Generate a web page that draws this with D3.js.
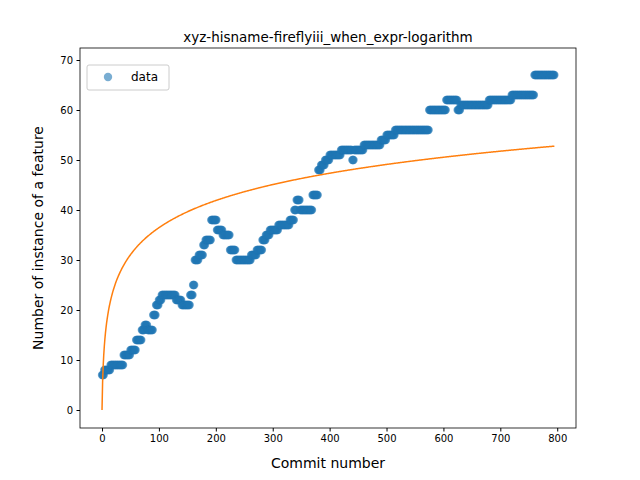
<!DOCTYPE html>
<html><head><meta charset="utf-8">
<script src="https://cdn.jsdelivr.net/npm/d3@7"></script>
<style>body{margin:0;background:#fff}text{font-family:"DejaVu Sans",sans-serif}</style>
</head><body><svg id="c" width="640" height="480"></svg>
<script>
// step runs: commit where a run starts, and its value
var runStart = [0, 4, 15, 38, 50, 60, 70, 75, 80, 90, 95, 100, 105, 130, 140, 155, 160, 163, 170, 178, 182, 192, 202, 212, 225, 235, 262, 272, 282, 288, 295, 310, 330, 338, 342, 348, 370, 380, 385, 392, 400, 420, 440, 443, 460, 490, 500, 515, 575, 605, 625, 630, 680, 720, 760];
var runValue = [7, 8, 9, 11, 12, 14, 16, 17, 16, 19, 21, 22, 23, 22, 21, 23, 25, 30, 31, 33, 34, 38, 36, 35, 32, 30, 31, 32, 34, 35, 36, 37, 38, 40, 42, 40, 43, 48, 49, 50, 51, 52, 50, 52, 53, 54, 55, 56, 60, 62, 60, 61, 62, 63, 67];
var lastCommit = 795;
// logarithmic fit y = a*ln(x+1)
var fitA = 7.9;
var fitMax = 795;

var data = [];
for (var x = 0; x <= lastCommit; x++) {
    var i = d3.bisectRight(runStart, x) - 1;
    data.push({x: x, y: runValue[i]});
}
var fit = d3.range(0, fitMax + 1).map(function(x){ return {x: x, y: fitA * Math.log(x + 1)}; });

var svg = d3.select("#c");
var L = 80, R = 576, T = 48, B = 428;
var xs = d3.scaleLinear().domain([-38.7, 833]).range([L, R]);
var ys = d3.scaleLinear().domain([-3.6, 72.4]).range([B, T]);

svg.append("g").selectAll("circle").data(data).enter().append("circle")
    .attr("cx", function(d){ return xs(d.x); })
    .attr("cy", function(d){ return ys(d.y); })
    .attr("r", 4.2).attr("fill", "#1f77b4").attr("fill-opacity", 0.6);

svg.append("path").datum(fit)
    .attr("d", d3.line().x(function(d){ return xs(d.x); }).y(function(d){ return ys(d.y); }))
    .attr("fill", "none").attr("stroke", "#ff7f0e").attr("stroke-width", 1.5);

var xa = svg.append("g").attr("transform", "translate(0," + B + ")")
    .call(d3.axisBottom(xs).tickValues([0,100,200,300,400,500,600,700,800]).tickSize(3.5).tickPadding(3.5));
var ya = svg.append("g").attr("transform", "translate(" + L + ",0)")
    .call(d3.axisLeft(ys).tickValues([0,10,20,30,40,50,60,70]).tickSize(3.5).tickPadding(3.5));
[xa, ya].forEach(function(a){
    a.select(".domain").remove();
    a.selectAll("text").attr("font-size", 10).attr("fill", "#000");
    a.selectAll("line").attr("stroke", "#000");
});
svg.append("rect").attr("x", L).attr("y", T).attr("width", R - L).attr("height", B - T)
    .attr("fill", "none").attr("stroke", "#000").attr("stroke-width", 0.8);

svg.append("text").attr("x", (L + R) / 2).attr("y", 42).attr("text-anchor", "middle")
    .attr("font-size", 13.5).text("xyz-hisname-fireflyiii_when_expr-logarithm");
svg.append("text").attr("x", (L + R) / 2).attr("y", 468).attr("text-anchor", "middle")
    .attr("font-size", 14).text("Commit number");
svg.append("text").attr("transform", "translate(43," + (T + B) / 2 + ") rotate(-90)")
    .attr("text-anchor", "middle").attr("font-size", 14).text("Number of instance of a feature");

var lg = svg.append("g");
lg.append("rect").attr("x", 87).attr("y", 65).attr("width", 82).attr("height", 25).attr("rx", 2)
    .attr("fill", "#fff").attr("fill-opacity", 0.8).attr("stroke", "#ccc");
lg.append("circle").attr("cx", 108).attr("cy", 77).attr("r", 4.2).attr("fill", "#1f77b4").attr("fill-opacity", 0.6);
lg.append("text").attr("x", 131).attr("y", 81).attr("font-size", 12).text("data");
</script></body></html>
